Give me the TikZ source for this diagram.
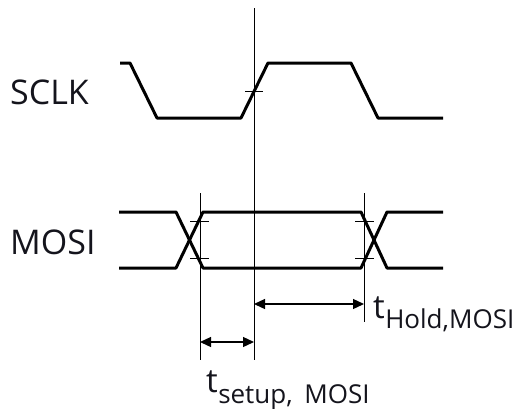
\documentclass[tikz,border=0pt]{standalone}
\usepackage{fontspec}
\setmainfont{Open Sans}
\usetikzlibrary{arrows.meta}
\definecolor{txt}{RGB}{20,20,28}
\definecolor{thin}{RGB}{60,60,60}
\tikzset{
  signal/.style={line width=3pt, line join=round, black},
  guide/.style={line width=1pt, thin},
  tick/.style={line width=0.9pt, thin},
  dim/.style={line width=1.3pt, black, {Triangle[length=11pt,width=10pt]}-{Triangle[length=11pt,width=10pt]}},
  lbl/.style={inner sep=0pt, text=txt, anchor=base west},
}
\begin{document}
\begin{tikzpicture}[x=1pt,y=-1pt]
\useasboundingbox (0,0) rectangle (514,408);
% labels
\node[lbl, font=\fontsize{34}{34}\selectfont] (sclk) at (10,104) {SCLK};
\node[lbl, font=\fontsize{34}{34}\selectfont] (mosi) at (10,254) {MOSI};
% SCLK waveform
\draw[signal] (120,63) -- (130,63) -- (157,118) -- (241,118) -- (268,63) -- (351,63) -- (378,118) -- (443,118);
% MOSI waveform
\draw[signal] (119,212) -- (176,212) -- (203,268) -- (361,268) -- (387,212) -- (443,212);
\draw[signal] (119,268) -- (176,268) -- (203,212) -- (361,212) -- (387,268) -- (443,268);
% guide coordinates
\coordinate (cT) at (254,8);
\coordinate (cB) at (254,360);
\coordinate (lT) at (200,193);
\coordinate (lB) at (200,360);
\coordinate (rT) at (364,193);
\coordinate (rB) at (364,322);
\draw[guide] (cT) -- (cB);
\draw[guide] (lT) -- (lB);
\draw[guide] (rT) -- (rB);
% ticks
\draw[tick] (245,91) -- (263,91);
\draw[tick] (190,221) -- (209,221);
\draw[tick] (190,258) -- (209,258);
\draw[tick] (355,221) -- (374,221);
\draw[tick] (355,258) -- (374,258);
% dimension arrows
\coordinate (h1) at (254,304);
\coordinate (h2) at (364,304);
\coordinate (s1) at (200,342);
\coordinate (s2) at (254,342);
\draw[dim] (h1) -- (h2);
\draw[dim] (s1) -- (s2);
% timing labels
\node[lbl, font=\fontsize{33}{33}\selectfont] (th) at (373,318) {t};
\node[lbl, font=\fontsize{26}{26}\selectfont] (thsub) at ([yshift=-10pt]th.base east) {Hold,MOSI};
\node[lbl, font=\fontsize{33}{33}\selectfont] (ts) at (206,392) {t};
\node[lbl, font=\fontsize{26}{26}\selectfont] (tssub) at ([yshift=-11pt]ts.base east) {setup,\hspace{0.45em}MOSI};
\end{tikzpicture}
\end{document}
